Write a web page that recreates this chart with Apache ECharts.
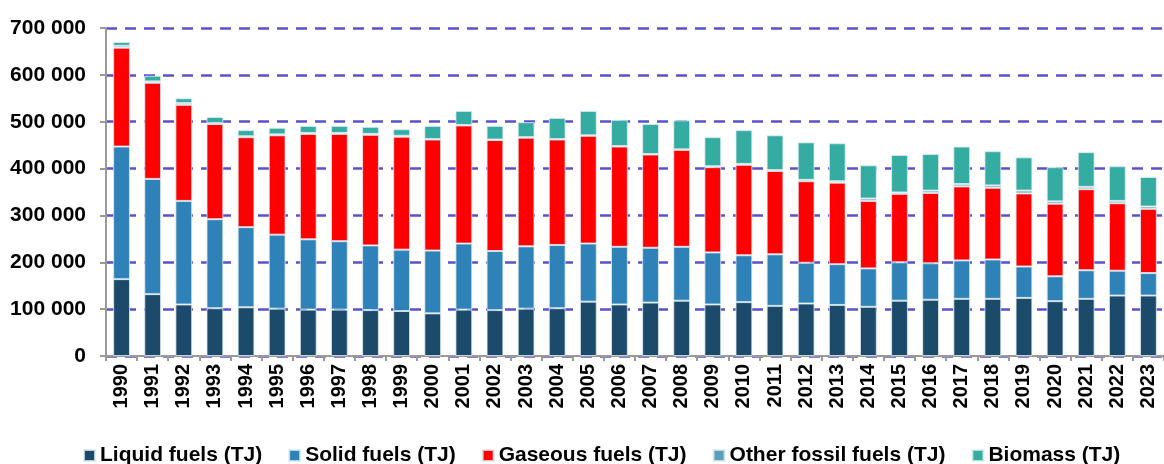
<!DOCTYPE html>
<html>
<head>
<meta charset="utf-8">
<script src="https://cdn.jsdelivr.net/npm/echarts@6/dist/echarts.min.js"></script>
<style>
  html, body { margin: 0; padding: 0; background: #fff; }
  #chart { width: 1164px; height: 464px; }
</style>
</head>
<body>
<div id="chart"></div>
<script>
// years on the x axis
const years = ['1990','1991','1992','1993','1994','1995','1996','1997','1998','1999',
  '2000','2001','2002','2003','2004','2005','2006','2007','2008','2009',
  '2010','2011','2012','2013','2014','2015','2016','2017','2018','2019',
  '2020','2021','2022','2023'];

// values in TJ
const liquidFuels = [164000,132000,110000,102000,104000,101000,99000,99000,98000,96000,
  91000,99000,98000,101000,102000,116000,110000,114000,118000,110000,
  115000,107000,112000,109000,105000,118000,120000,122000,122000,124000,
  117000,122000,129000,129000];
const solidFuels = [283000,246000,221000,190000,171000,158000,150000,146000,138000,131000,
  134000,141000,126000,133000,135000,124000,123000,117000,115000,111000,
  100000,110000,87000,87000,82000,82000,78000,82000,84000,67000,
  53000,61000,53000,48000];
const gaseousFuels = [211000,205000,205000,203000,192000,212000,225000,229000,236000,241000,
  237000,252000,237000,232000,225000,230000,214000,199000,207000,182000,
  193000,178000,174000,174000,144000,146000,150000,158000,153000,156000,
  155000,173000,144000,137000];
const otherFossil = [4000,3000,4000,2000,2000,2000,2000,2000,2000,2000,
  1000,1000,1000,1000,1000,1000,1000,1000,1000,2000,
  2000,2000,3000,3000,5000,3000,5000,5000,5000,6000,
  5000,5000,5000,5000];
const biomass = [8000,12000,10000,13000,13000,14000,15000,15000,15000,14000,
  28000,30000,29000,32000,45000,52000,56000,64000,62000,62000,
  72000,74000,80000,81000,71000,80000,78000,80000,73000,71000,
  73000,74000,74000,63000];

const yTicks = [0, 100000, 200000, 300000, 400000, 500000, 600000, 700000];

const FONT = "'Liberation Sans', Arial, sans-serif";

function fmt(v) {
  return String(v).replace(/\B(?=(\d{3})+(?!\d))/g, ' ');
}

function bar(name, data, color) {
  return {
    name: name,
    type: 'bar',
    stack: 'total',
    data: data,
    barCategoryGap: '46%',
    itemStyle: { color: color, borderColor: 'rgba(220,235,240,0.8)', borderWidth: 1 }
  };
}

const chart = echarts.init(document.getElementById('chart'), null, { renderer: 'canvas' });

chart.setOption({
  animation: false,
  textStyle: { fontFamily: FONT },
  grid: { left: 106, top: 28, right: -6, bottom: 108, containLabel: false },
  legend: {
    left: 78,
    top: 440,
    itemWidth: 11,
    itemHeight: 11,
    itemGap: 26,
    icon: 'rect',
    textStyle: { fontFamily: FONT, fontSize: 21, fontWeight: 'bold', color: '#000' },
    data: ['Liquid fuels (TJ)', 'Solid fuels (TJ)', 'Gaseous fuels (TJ)', 'Other fossil fuels (TJ)', 'Biomass (TJ)']
  },
  xAxis: {
    type: 'category',
    data: years,
    boundaryGap: true,
    axisLine: { lineStyle: { color: '#999', width: 2 } },
    axisTick: { show: true, length: 5, lineStyle: { color: '#999', width: 2 } },
    axisLabel: {
      rotate: 90,
      interval: 0,
      margin: 8,
      fontFamily: FONT,
      fontSize: 20,
      fontWeight: 'bold',
      color: '#000'
    }
  },
  yAxis: {
    type: 'value',
    min: yTicks[0],
    max: yTicks[yTicks.length - 1],
    interval: 100000,
    axisLine: { show: true, lineStyle: { color: '#999', width: 2 } },
    axisTick: { show: true, length: 6, lineStyle: { color: '#999', width: 2 } },
    axisLabel: {
      margin: 20,
      fontFamily: FONT,
      fontSize: 21,
      fontWeight: 'bold',
      color: '#000',
      formatter: fmt
    },
    splitLine: {
      show: true,
      lineStyle: { color: '#5a52cc', width: 2.5, type: [11, 8] }
    }
  },
  series: [
    bar('Liquid fuels (TJ)', liquidFuels, '#1b4a6b'),
    bar('Solid fuels (TJ)', solidFuels, '#2e82b8'),
    bar('Gaseous fuels (TJ)', gaseousFuels, '#ff0000'),
    bar('Other fossil fuels (TJ)', otherFossil, '#5b9fb8'),
    bar('Biomass (TJ)', biomass, '#35aca2')
  ]
});
</script>
</body>
</html>
